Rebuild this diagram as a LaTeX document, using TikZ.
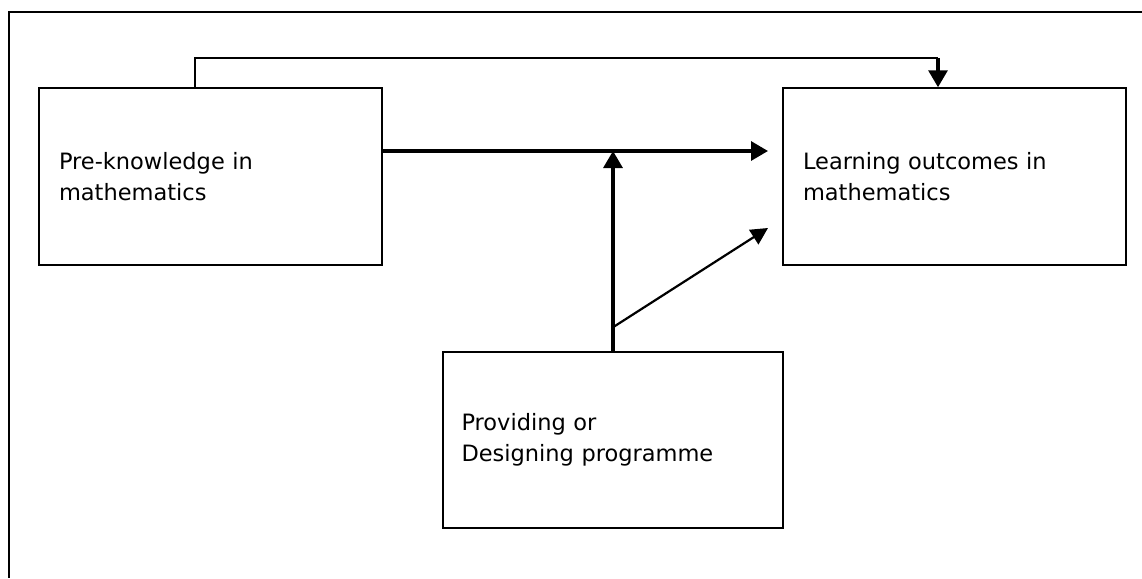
\documentclass[tikz,border=0pt]{standalone}
\usepackage{fontspec}
\setmainfont{DejaVu Sans}
\usetikzlibrary{arrows.meta,calc}
\tikzset{
  box/.style={draw,line width=1.5pt,minimum width=343pt,minimum height=177pt,
    text width=303pt,align=left,inner sep=0pt,font=\fontsize{22.5}{31}\selectfont},
  flow/.style={line width=3.2pt,-{Triangle[length=17pt,width=19pt]}},
  thinflow/.style={line width=2.2pt,-{Triangle[length=17pt,width=17pt]}},
}
\begin{document}
\begin{tikzpicture}[x=1pt,y=-1pt]
\useasboundingbox (0,0) rectangle (1142,578);
% outer frame (only top and left edges fall inside the page)
\draw[line width=1.5pt] (1142,12) -- (9,12) -- (9,578);
\node[box] (pre) at (210.5,176.5) {Pre-knowledge in\\mathematics};
\node[box] (out) at (954.5,176.5) {Learning outcomes in\\mathematics};
\node[box,minimum width=340pt,minimum height=176pt] (prog) at (613,440) {Providing or\\Designing programme};
\coordinate (hstart) at (pre.east |- 0,151);
\coordinate (hend) at (768,151);
\coordinate (fork) at ($(prog.north)+(0,-24)$);
\coordinate (dend) at (768,228);
\coordinate (fbup) at (195,58);
\coordinate (fbdown) at (938,58);
\draw[flow] (hstart) -- (hend);
\draw[flow] (prog.north) -- (prog.north |- hend);
\draw[thinflow] (fork) -- (dend);
\draw[line width=1.5pt] (pre.north -| fbup) -- (fbup) -- (fbdown);
\draw[flow] (fbdown) -- (out.north -| fbdown);
\end{tikzpicture}
\end{document}
